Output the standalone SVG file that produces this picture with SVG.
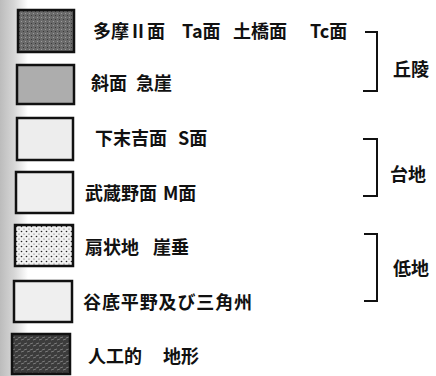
<svg xmlns="http://www.w3.org/2000/svg" width="436" height="376" viewBox="0 0 436 376">
  <style>
    .box { stroke: #111; stroke-width: 2.5; }
    .t { font-family: "Noto Sans CJK JP", "Noto Sans", sans-serif; font-size: 18px; font-weight: 700; fill: #111; dominant-baseline: central; }
    .br { fill: none; stroke: #111; stroke-width: 2; }
  </style>
  <defs>
    <linearGradient id="edge" x1="0" y1="0" x2="1" y2="0">
      <stop offset="0" stop-color="#bcbcbc"/>
      <stop offset="0.5" stop-color="#d6d6d6"/>
      <stop offset="1" stop-color="#ffffff"/>
    </linearGradient>
    <pattern id="dots" width="5" height="5" patternUnits="userSpaceOnUse">
      <rect width="5" height="5" fill="#f2f2f2"/>
      <circle cx="1.5" cy="1.5" r="0.8" fill="#222"/>
      <circle cx="4" cy="4" r="0.6" fill="#555"/>
    </pattern>
    <pattern id="mottle" width="6" height="6" patternUnits="userSpaceOnUse">
      <rect width="6" height="6" fill="#3c3c3c"/>
      <path d="M0 2 L3 1 M3 4 L6 3" stroke="#8a8a8a" stroke-width="0.8"/>
    </pattern>
    <pattern id="speck" width="4" height="4" patternUnits="userSpaceOnUse">
      <rect width="4" height="4" fill="#6a6a6a"/>
      <rect x="1" y="1" width="1" height="1" fill="#9a9a9a"/>
      <rect x="3" y="3" width="1" height="1" fill="#3a3a3a"/>
    </pattern>
  </defs>
  <rect width="436" height="376" fill="#ffffff"/>
  <rect x="0" y="0" width="28" height="376" fill="url(#edge)"/>

  <g id="node-tama">
    <rect class="box" x="18" y="10" width="56" height="42" fill="url(#speck)"/>
    <text class="t" x="93" y="30">多摩Ⅱ面</text>
    <text class="t" x="182" y="30">Ta面</text>
    <text class="t" x="233" y="30">土橋面</text>
    <text class="t" x="310" y="30">Tc面</text>
  </g>
  <g id="node-shamen">
    <rect class="box" x="17" y="65" width="57" height="39" fill="#adadad"/>
    <text class="t" x="91" y="82">斜面</text>
    <text class="t" x="136" y="82">急崖</text>
  </g>
  <g id="node-shimosueyoshi">
    <rect class="box" x="17" y="118" width="56" height="42" fill="#ededed"/>
    <text class="t" x="95" y="137">下末吉面</text>
    <text class="t" x="178" y="137">S面</text>
  </g>
  <g id="node-musashino">
    <rect class="box" x="16" y="172" width="57" height="41" fill="#efefef"/>
    <text class="t" x="85" y="192">武蔵野面</text>
    <text class="t" x="163" y="192">M面</text>
  </g>
  <g id="node-senjochi">
    <rect class="box" x="15" y="225" width="58" height="41" fill="url(#dots)"/>
    <text class="t" x="85" y="246">扇状地</text>
    <text class="t" x="153" y="246">崖垂</text>
  </g>
  <g id="node-kokutei">
    <rect class="box" x="14" y="281" width="58" height="41" fill="#efefef"/>
    <text class="t" x="83" y="301" textLength="169" lengthAdjust="spacing">谷底平野及び三角州</text>
  </g>
  <g id="node-jinko">
    <rect class="box" x="12" y="334" width="58" height="40" fill="url(#mottle)"/>
    <text class="t" x="88" y="355">人工的</text>
    <text class="t" x="163" y="355">地形</text>
  </g>

  <g id="connectors">
    <path class="br" d="M365 32 H377 V91 H363"/>
    <path class="br" d="M363 139 H377 V196 H363"/>
    <path class="br" d="M364 234 H377 V301 H364"/>
  </g>
  <g id="node-kyuryo">
    <text class="t" x="393" y="68">丘陵</text>
  </g>
  <g id="node-daichi">
    <text class="t" x="390" y="173">台地</text>
  </g>
  <g id="node-teichi">
    <text class="t" x="393" y="267">低地</text>
  </g>
</svg>
